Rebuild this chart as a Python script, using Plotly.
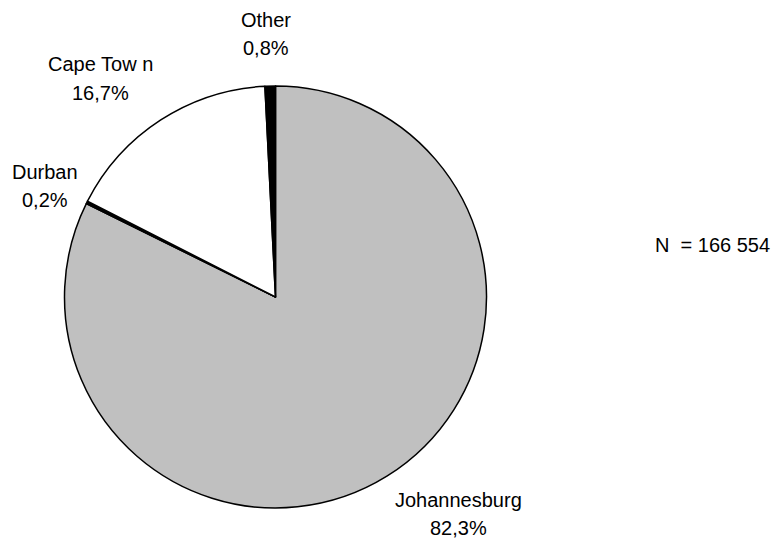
import plotly.graph_objects as go

cities = ["Johannesburg", "Durban", "Cape Tow n", "Other"]
shares = [82.3, 0.2, 16.7, 0.8]
share_labels = ["82,3%", "0,2%", "16,7%", "0,8%"]
colors = ["#c0c0c0", "#000000", "#ffffff", "#000000"]
note = "N  = 166 554"

W, H = 773, 544
cx, cy, r = 275.5, 297, 211

fig = go.Figure(go.Pie(
    labels=cities, values=shares, sort=False, direction="clockwise", rotation=0,
    marker=dict(colors=colors, line=dict(color="black", width=1.5)),
    textinfo="none", hoverinfo="label+percent", showlegend=False,
    domain=dict(x=[(cx - r) / W, (cx + r) / W], y=[(H - cy - r) / H, (H - cy + r) / H]),
))

# label positions (pixels): x centre, cap-centre of name line, cap-centre of percent line
label_pos = {"Johannesburg": (458, 500, 528), "Durban": (45, 172, 200),
             "Cape Tow n": (100, 64, 93), "Other": (266, 20, 48)}
font = dict(family="Liberation Sans, Arial, sans-serif", size=20, color="black")
for c, s in zip(cities, share_labels):
    px, py1, py2 = label_pos[c]
    for txt, py in ((c, py1), (s, py2)):
        fig.add_annotation(x=px / W, y=1 - py / H, xref="paper", yref="paper",
                           xanchor="center", yanchor="middle",
                           text=txt, showarrow=False, font=font)
fig.add_annotation(x=653 / W, y=1 - 245 / H, xref="paper", yref="paper",
                   xanchor="left", yanchor="middle",
                   text=note, showarrow=False, font=font)

fig.update_layout(width=W, height=H, margin=dict(l=0, r=0, t=0, b=0),
                  paper_bgcolor="white", plot_bgcolor="white")
fig.write_html("out.html", config={"displayModeBar": False},
               post_script="document.body.style.margin='0';document.body.style.overflow='hidden';")
